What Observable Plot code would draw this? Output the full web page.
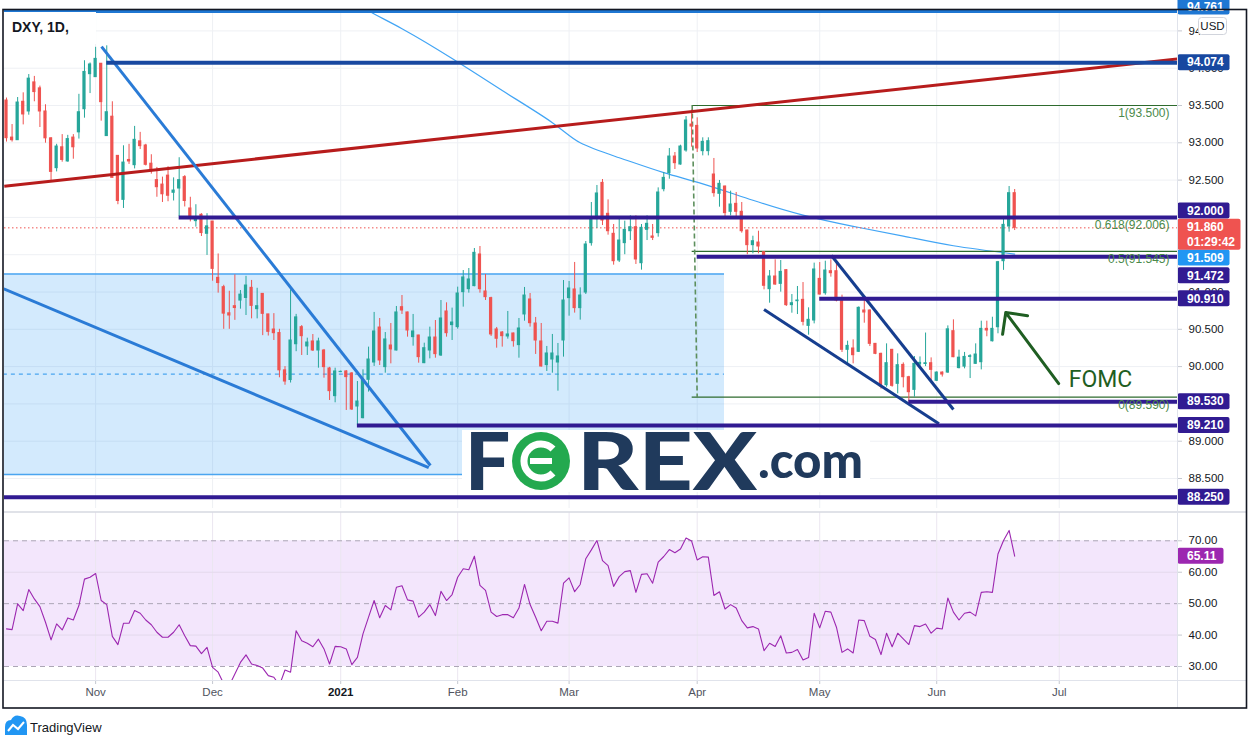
<!DOCTYPE html>
<html><head><meta charset="utf-8">
<script src="https://cdn.jsdelivr.net/npm/d3@7"></script>
<script src="https://cdn.jsdelivr.net/npm/@observablehq/plot@0.6"></script>
<style>
body{margin:0;background:#fff;font-family:"Liberation Sans",Arial,sans-serif;}
#wrap{position:relative;width:1253px;height:745px;overflow:hidden;background:#fff}
#wrap svg{position:absolute;left:0;max-width:none}
</style></head><body><div id="wrap"></div>
<script>
// ---------------- DATA (DXY daily) ----------------
const startDate = "2020-10-09"; // first bar; one bar per weekday
const open = [93.567,93.07,93.035,93.55,93.42,93.81,93.73,93.42,93.06,92.66,
92.94,92.75,93.07,93.14,93.45,93.92,93.88,94.06,93.09,93.35,
92.825,92.235,92.77,92.70,93.02,92.964,92.72,92.50,92.44,92.56,
92.33,92.387,92.54,92.12,91.95,92.035,91.78,91.945,91.19,91.065,
90.715,90.81,90.885,90.92,91.056,90.77,90.975,90.70,90.497,90.45,
89.95,89.82,90.30,90.529,90.270,90.337,90.216,90.216,89.975,89.604,
89.926,89.935,89.908,89.465,89.309,89.823,90.055,90.524,89.993,90.283,
90.216,90.797,90.726,90.395,90.417,90.046,90.216,90.39,90.149,90.739,
90.556,90.529,90.998,91.038,91.079,91.503,91.007,90.918,90.498,90.457,
90.404,90.444,90.288,90.699,90.9,90.578,90.337,90.02,90.095,90.055,
90.35,90.918,91.034,90.784,90.993,91.655,91.977,92.463,92.048,91.78,
91.422,91.655,91.815,91.869,91.386,91.833,91.744,91.789,92.378,92.593,
92.816,92.709,92.897,93.245,93.227,92.888,92.888,92.575,92.316,92.414,
92.075,92.182,92.075,91.824,91.628,91.663,91.534,91.038,91.208,91.109,
91.293,90.824,90.877,90.895,90.546,90.618,91.176,90.984,91.279,91.279,
90.877,90.225,90.243,90.198,90.752,90.752,90.305,90.171,89.751,90.225,
89.769,90.023,89.858,89.688,90.03,90.035,90.046,89.81,89.92,89.92,
90.475,89.98,90.0,90.13,90.037,90.059,90.506,90.34,90.528,91.413,
91.878,92.325];
const high = [93.60,93.245,93.607,93.67,93.915,93.89,93.76,93.51,93.07,92.98,
93.11,93.10,93.11,93.65,94.10,94.07,94.28,94.06,94.30,93.55,
92.825,92.96,92.98,93.22,93.14,92.98,92.84,92.67,92.54,92.68,
92.53,92.80,92.56,92.27,92.17,92.05,92.05,91.945,91.51,91.09,
91.01,91.23,91.02,91.21,91.155,91.05,90.975,90.70,90.71,90.50,
90.00,91.03,90.70,90.55,90.381,90.43,90.381,90.23,89.99,89.979,
89.94,89.948,89.92,89.8,89.957,90.261,90.726,90.645,90.457,90.578,
90.806,90.953,90.73,90.699,90.42,90.314,90.529,90.618,90.886,90.855,
90.784,91.065,91.288,91.315,91.583,91.61,91.235,90.93,90.525,90.47,
90.739,90.45,90.645,91.061,90.98,90.659,90.578,90.27,90.431,90.31,
91.154,91.141,91.396,91.056,91.677,92.2,92.428,92.508,92.235,91.905,
91.972,91.95,92.021,92.021,91.905,92.021,91.905,92.396,92.602,92.924,
92.87,92.968,93.352,93.44,93.335,93.067,93.067,92.79,92.495,92.42,
92.352,92.334,92.2,91.83,91.748,91.815,91.54,91.288,91.431,91.422,
91.30,90.966,91.074,91.127,90.788,91.387,91.395,91.413,91.431,91.395,
90.958,90.341,90.359,90.80,90.886,90.76,90.31,90.18,90.305,90.23,
90.171,90.05,89.87,90.135,90.13,90.45,90.117,89.93,89.93,90.546,
90.627,90.22,90.19,90.16,90.305,90.609,90.609,90.662,91.41,92.003,
92.414,92.374];
const low = [93.01,93.01,93.035,93.24,93.37,93.55,93.205,92.995,92.47,92.61,
92.74,92.74,92.78,93.05,93.33,93.66,93.88,93.29,93.09,92.53,
92.17,92.12,92.71,92.65,92.91,92.69,92.58,92.27,92.20,92.21,
92.22,92.01,92.14,91.94,91.87,91.744,91.49,91.145,90.985,90.50,
90.50,90.62,90.77,90.685,90.64,90.64,90.415,90.41,90.35,89.85,
89.75,89.78,90.20,90.149,90.149,90.203,89.979,89.845,89.546,89.515,
89.92,89.412,89.412,89.21,89.30,89.658,90.002,90.015,89.912,90.037,
90.21,90.699,90.395,90.274,90.046,90.04,90.104,90.113,90.136,90.395,
90.35,90.502,90.797,90.985,91.07,90.985,90.886,90.404,90.247,90.261,
90.368,90.261,90.113,90.609,90.529,90.163,89.993,89.935,89.912,89.671,
90.127,90.676,90.717,90.623,90.967,91.615,91.852,91.891,91.762,91.36,
91.395,91.50,91.69,91.369,91.293,91.69,91.69,91.735,92.343,92.512,
92.642,92.70,92.874,92.941,92.87,92.825,92.825,92.271,92.137,91.994,
92.021,92.003,91.789,91.5,91.512,91.512,91.029,90.85,91.09,90.998,
90.806,90.716,90.698,90.546,90.421,90.573,90.96,90.957,91.199,90.868,
90.189,90.037,90.037,90.189,90.582,90.269,90.16,89.698,89.724,89.724,
89.635,89.715,89.523,89.59,89.98,90.0,89.79,89.80,89.86,89.91,
90.12,89.97,89.97,89.84,90.03,89.956,90.40,90.33,90.44,91.29,
91.802,91.824];
const close = [93.062,93.035,93.54,93.38,93.86,93.68,93.42,93.06,92.61,92.95,
92.77,93.05,92.94,93.41,93.95,94.05,94.125,93.545,93.41,92.53,
92.22,92.735,92.75,93.04,92.955,92.705,92.63,92.405,92.31,92.29,
92.36,92.50,92.22,91.985,92.00,91.79,91.88,91.31,91.12,90.71,
90.685,90.785,90.965,91.087,90.814,90.81,90.707,90.466,90.448,89.95,
89.80,90.35,90.66,90.408,90.323,90.216,90.337,89.993,89.671,89.935,
89.93,89.859,89.425,89.532,89.823,90.095,90.471,90.082,90.364,90.23,
90.726,90.752,90.484,90.471,90.127,90.247,90.39,90.167,90.645,90.448,
90.591,90.98,91.195,91.168,91.525,91.038,90.931,90.431,90.373,90.408,
90.431,90.341,90.511,90.953,90.582,90.35,90.002,90.176,90.176,90.136,
90.886,91.047,90.784,90.953,91.637,91.981,92.321,91.958,91.815,91.413,
91.69,91.833,91.869,91.436,91.86,91.914,91.726,92.334,92.53,92.816,
92.727,92.95,93.299,93.218,92.924,93.013,93.022,92.325,92.45,92.057,
92.173,92.075,91.815,91.628,91.681,91.61,91.083,91.208,91.1,91.27,
90.824,90.85,90.886,90.6,90.627,91.302,90.966,91.288,91.252,90.886,
90.225,90.278,90.153,90.788,90.725,90.305,90.171,89.733,90.046,89.742,
90.019,89.858,89.657,90.037,90.05,90.045,89.956,89.92,89.894,90.5,
90.126,90.12,90.13,90.14,90.162,90.506,90.484,90.506,91.4,91.9,
92.325,91.86];
const rsi = [41.96,41.75,49.92,47.8,54.49,51.5,49.07,44.08,38.46,43.55,
41.64,45.46,44.8,49.4,57.8,58.4,59.6,51.0,49.7,39.6,
36.97,43.76,43.76,47.8,46.95,44.8,43.3,40.9,39.3,39.3,
40.9,43.3,39.8,36.65,36.5,34.1,36.1,29.75,28.2,24.5,
24.0,27.6,31.3,33.7,30.8,30.3,29.5,27.1,26.6,24.0,
28.9,28.2,41.4,38.2,37.4,36.3,38.7,35.6,30.8,36.4,
36.3,35.6,30.6,32.9,40.4,45.7,51.0,45.5,49.4,48.0,
55.2,55.7,51.2,50.8,45.7,47.3,49.7,46.2,53.9,51.0,
52.9,58.4,61.1,60.8,65.1,55.8,54.2,47.3,45.9,46.5,
46.5,45.5,48.6,56.1,49.7,45.7,41.4,44.4,44.4,43.8,
56.5,58.2,53.8,56.1,64.3,67.1,70.1,63.7,62.1,55.5,
58.6,60.2,60.5,53.6,59.3,59.5,56.5,63.2,65.0,67.2,
66.2,67.4,70.9,69.9,63.9,64.9,64.8,52.6,53.8,48.3,
49.7,48.6,44.6,42.3,42.7,41.96,35.06,37.4,36.4,39.8,
34.3,34.5,35.4,32.1,32.9,46.95,42.3,47.6,47.3,42.5,
34.5,35.6,34.3,44.8,44.6,39.6,38.6,33.8,40.6,36.3,
40.6,38.8,37.0,43.0,42.7,43.5,40.6,42.2,41.96,51.8,
47.3,44.8,46.95,47.3,46.1,53.6,53.8,53.6,65.8,70.1,
73.3,65.11];
// moving average (thin blue curve), sampled at these bars
const maBars   = [62,65,71,80,89,98,103,110,118,125,134,143,152,161,170,181];
const maValues = [94.95,94.77,94.53,94.13,93.70,93.27,93.00,92.80,92.60,92.45,92.23,92.03,91.88,91.75,91.62,91.509];
// time axis
const monthTickDates  = ["2020-11-02","2020-12-01","2021-01-01","2021-02-01","2021-03-01","2021-04-01","2021-05-03","2021-06-01","2021-07-01"];
const monthTickLabels = ["Nov","Dec","2021","Feb","Mar","Apr","May","Jun","Jul"];
const priceTicks = [88.5,89.0,89.5,90.0,90.5,91.0,91.5,92.0,92.5,93.0,93.5,94.0,94.5];
const rsiTicks = [30,40,50,60,70];
const rsiBands = [30,50,70];
// drawings: horizontal levels
const levelPrices   = [94.761, 94.074, 92.000, 91.472, 90.910, 89.530, 89.210, 88.250];
const levelStartBar = [-2, 18, 31, 124, 146, 162, 63, -2];
// trend lines (bar index, price)
const trendStartBar   = [-0.4, 17.06, -0.5, 148.1, 136.0];
const trendStartPrice = [92.418, 94.29, 91.043, 91.489, 90.765];
const trendEndBar     = [210.3, 76.1, 75.8, 170.0, 167.4];
const trendEndPrice   = [94.125, 88.674, 88.647, 89.425, 89.233];
// price range box
const rangeBoxBars   = [-2, 128.9];
const rangeBoxPrices = [88.554, 91.241];
const rangeBoxMid    = 89.90;
// fibonacci retracement
const fibLevels  = [1, 0.618, 0.5, 0];
const fibPrices  = [93.500, 92.006, 91.545, 89.590];
const fibStartBar = 123.1, fibEndBar = 124.0;
// FOMC annotation
const fomcArrowFrom = [188.9, 89.773], fomcArrowTo = [179.4, 90.725];
const fomcTextAt = [190.7, 89.83];
const lastPrice = 91.860, lastRsi = 65.11, maLast = 91.509;
const axisLabelValues = [94.761, 94.074, 92.000, 91.509, 91.472, 90.910, 89.530, 89.210, 88.250];

// ---------------- helpers ----------------
function barIndexOf(dateStr){
  const s=new Date(startDate+"T00:00:00Z"), d=new Date(dateStr+"T00:00:00Z");
  let n=0; for(const t=new Date(s); t<d; t.setUTCDate(t.getUTCDate()+1)){const w=t.getUTCDay(); if(w!==0&&w!==6) n++;}
  return n;
}
const wrap=document.getElementById("wrap");
const W=1253, X_DOMAIN=[-0.359,210.23];
const UP="#26a69a", DOWN="#ef5350";
const INDIGO="#311b92";
const bars=open.map((o,i)=>({i,o,h:high[i],l:low[i],c:close[i]}));
const col=d=>d.c>=d.o?UP:DOWN;
const monthIdx=monthTickDates.map(barIndexOf);
const monthLabelOf=new Map(monthIdx.map((m,k)=>[m,monthTickLabels[k]]));
const FONT="'Liberation Sans', Arial, sans-serif";
const baseStyle={fontFamily:FONT,fontSize:"11.5px",color:"#131722",background:"transparent",overflow:"visible"};
const levelColor=i=> i===0?"#1e77d3": i===1?"#1848a0": INDIGO;
const levelWidth=i=> i===0?3:4;
const trendColor=["#b71c1c","#2a7bd6","#2a7bd6","#163e8f","#163e8f"];
// axis tick labels that sit fully under a price tag are not drawn
const shownPriceTicks=priceTicks.filter(t=>!axisLabelValues.some(v=>Math.abs(v-t)<0.04));

// ---------------- price pane ----------------
const price=Plot.plot({
  width:W, height:512, marginLeft:4, marginRight:76, marginTop:10, marginBottom:4,
  style:baseStyle,
  x:{domain:X_DOMAIN, axis:null},
  y:{domain:[88.098,94.7735], axis:null},
  marks:[
    Plot.ruleY(priceTicks,{stroke:"#eef0f4"}),
    Plot.ruleX(monthIdx,{stroke:"#eef0f4"}),
    Plot.rect([0],{x1:rangeBoxBars[0],x2:rangeBoxBars[1],y1:rangeBoxPrices[0],y2:rangeBoxPrices[1],fill:"#2196f3",fillOpacity:0.2,clip:true}),
    Plot.ruleY(rangeBoxPrices,{x1:rangeBoxBars[0],x2:rangeBoxBars[1],stroke:"#4aa5f0",strokeWidth:1.5,clip:true}),
    Plot.ruleY([rangeBoxMid],{x1:rangeBoxBars[0],x2:rangeBoxBars[1],stroke:"#4aa5f0",strokeWidth:1.2,strokeDasharray:"4,4",clip:true}),
    Plot.line(maBars.map((b,k)=>({b,v:maValues[k]})),{x:"b",y:"v",curve:"natural",stroke:"#42a5f5",strokeWidth:1.2,clip:true}),
    Plot.ruleY(fibPrices,{x1:fibStartBar,x2:X_DOMAIN[1],stroke:"#2e6b2e",strokeWidth:1.2}),
    Plot.link([0],{x1:fibStartBar,y1:fibPrices[0],x2:fibEndBar,y2:fibPrices[3],stroke:"#5d8f5d",strokeWidth:1.6,strokeDasharray:"5,3"}),
    Plot.ruleY([lastPrice],{stroke:"#ef5350",strokeWidth:1,strokeDasharray:"1.5,2.5"}),
    Plot.ruleX(bars,{x:"i",y1:"l",y2:"h",stroke:col,strokeWidth:1}),
    Plot.rect(bars,{x1:d=>d.i-0.29,x2:d=>d.i+0.29,y1:d=>Math.min(d.o,d.c),y2:d=>Math.max(d.o,d.c),fill:col,insetTop:-0.5,insetBottom:-0.5}),
    Plot.link(d3.range(trendStartBar.length),{x1:i=>trendStartBar[i],y1:i=>trendStartPrice[i],x2:i=>trendEndBar[i],y2:i=>trendEndPrice[i],stroke:i=>trendColor[i],strokeWidth:3,clip:true}),
    Plot.ruleY(d3.range(levelPrices.length),{y:i=>levelPrices[i],x1:i=>levelStartBar[i],x2:X_DOMAIN[1],stroke:levelColor,strokeWidth:levelWidth,clip:true}),
    Plot.text(fibLevels.map((f,k)=>({f,p:fibPrices[k]})),{y:"p",frameAnchor:"right",textAnchor:"end",dx:-8,dy:8,text:d=>`${d.f}(${d.p.toFixed(3)})`,fill:"#4b8a4b",fontSize:12}),
    Plot.arrow([0],{x1:fomcArrowFrom[0],y1:fomcArrowFrom[1],x2:fomcArrowTo[0],y2:fomcArrowTo[1],stroke:"#1f5e22",strokeWidth:3,headLength:11,headAngle:90}),
    Plot.text([0],{x:fomcTextAt[0],y:fomcTextAt[1],text:["FOMC"],textAnchor:"start",fill:"#1f5e22",fontSize:23,fontFamily:"Roboto, sans-serif"}),
    Plot.axisY({anchor:"right",ticks:shownPriceTicks,tickFormat:d3.format(".3f"),tickSize:4,tickPadding:7,stroke:"#c5c8d0",fill:"#131722",label:null})
  ]
});
wrap.appendChild(price); price.style.top="0px";

// axis label boxes on top of the right scale
const yP=price.scale("y");
const sel=d3.select(price);
function box(svg,top,h,w,fill,lines){
  const g=d3.select(svg).append("g").attr("text-anchor","start");
  g.append("rect").attr("x",1177.5).attr("y",top).attr("width",w).attr("height",h).attr("rx",2).attr("fill",fill);
  lines.forEach((t,k)=>g.append("text").attr("x",1187).attr("y",top+12.3+k*14.5).attr("fill","#fff").attr("text-anchor","start")
    .attr("font-family",FONT).attr("font-size","12px").attr("font-weight","bold").text(t));
}
const boxShift=new Map([[94.761,-4.5],[92.000,-6.5],[91.509,4],[91.472,19]]);
const boxFill=v=> v===94.761?"#1e77d3": v===94.074?"#1848a0": v===91.509?"#2196f3": INDIGO;
axisLabelValues.forEach(v=>{
  const yc=yP.apply(v)+(boxShift.get(v)||0);
  box(price,yc-8,16,52,boxFill(v),[v.toFixed(3)]);
});
box(price,yP.apply(lastPrice)-8.5,31,63,"#ef5350",[lastPrice.toFixed(3),"01:29:42"]);
// USD tag
const usd=sel.append("g");
usd.append("rect").attr("x",1198.5).attr("y",17.5).attr("width",28).attr("height",17).attr("rx",3).attr("fill","#fff").attr("stroke","#d1d4dc");
usd.append("text").attr("x",1212.5).attr("y",30).attr("text-anchor","middle").attr("font-family",FONT).attr("font-size","11.5px").attr("fill","#131722").text("USD");

// ---------------- RSI pane + time axis ----------------
const rsiPlot=Plot.plot({
  width:W, height:196, marginLeft:4, marginRight:76, marginTop:0, marginBottom:28,
  style:baseStyle,
  x:{domain:X_DOMAIN, axis:null},
  y:{domain:[25.55,79.0], axis:null},
  marks:[
    Plot.rect([0],{x1:X_DOMAIN[0],x2:X_DOMAIN[1],y1:rsiBands[0],y2:rsiBands[2],fill:"#f3e6fc"}),
    Plot.ruleX(monthIdx,{stroke:"#ebe6f0"}),
    Plot.ruleY([40,60],{stroke:"#e3d9ec"}),
    Plot.ruleY(rsiBands,{stroke:"#aca6b6",strokeDasharray:"5,4"}),
    Plot.line(rsi.map((v,i)=>({i,v})),{x:"i",y:"v",stroke:"#9c27b0",strokeWidth:1.1,clip:true}),
    Plot.axisY({anchor:"right",ticks:rsiTicks,tickFormat:d3.format(".2f"),tickSize:4,tickPadding:7,stroke:"#c5c8d0",fill:"#131722",label:null}),
    Plot.axisX({anchor:"bottom",ticks:monthIdx,tickFormat:d=>monthLabelOf.get(d),tickSize:4,tickPadding:3,stroke:"#c5c8d0",fill:"#50535e",label:null})
  ]
});
wrap.appendChild(rsiPlot); rsiPlot.style.top="512px";
d3.select(rsiPlot).selectAll("text").filter(function(){return this.textContent==="2021";}).attr("font-weight","bold").attr("fill","#131722");
const yR=rsiPlot.scale("y");
box(rsiPlot,yR.apply(lastRsi)-8,16,46,"#9c27b0",[lastRsi.toFixed(2)]);

// ---------------- overlays: separators, frame, legend, watermark, footer ----------------
const ov=d3.select(wrap).append("svg").attr("width",W).attr("height",745).style("top","0px").style("pointer-events","none");
ov.append("line").attr("x1",4).attr("x2",1246).attr("y1",512).attr("y2",512).attr("stroke","#d6d9e0").attr("stroke-width",1.5);
ov.append("line").attr("x1",4).attr("x2",1246).attr("y1",680.5).attr("y2",680.5).attr("stroke","#e0e3eb");
ov.append("line").attr("x1",1177.5).attr("x2",1177.5).attr("y1",10).attr("y2",708).attr("stroke","#e0e3eb");
// legend
ov.append("rect").attr("x",4).attr("y",12).attr("width",92).attr("height",32).attr("fill","#fff");
ov.append("text").attr("x",12).attr("y",32).attr("font-family",FONT).attr("font-size","14px").attr("font-weight","bold").attr("fill","#131722").text("DXY, 1D,");
// watermark logo
const lg=ov.append("g");
lg.append("rect").attr("x",462).attr("y",430).attr("width",408).attr("height",62).attr("fill","#fff");
const NAVY="#203a5c";
lg.append("text").attr("x",465).attr("y",490).attr("font-family","Lato, 'Open Sans', sans-serif").attr("font-weight","900").attr("font-size","80px").attr("fill",NAVY).text("F");
lg.append("circle").attr("cx",541).attr("cy",461).attr("r",29).attr("fill","#23a94f");
lg.append("path").attr("d","M553,449 A17,17 0 1 0 553,473").attr("fill","none").attr("stroke","#fff").attr("stroke-width",7);
lg.append("rect").attr("x",530).attr("y",458).attr("width",22).attr("height",6).attr("fill","#fff");
lg.append("text").attr("x",577).attr("y",490).attr("font-family","Lato, 'Open Sans', sans-serif").attr("font-weight","900").attr("font-size","80px").attr("fill",NAVY).attr("textLength",180).attr("lengthAdjust","spacingAndGlyphs").text("REX");
lg.append("text").attr("x",758).attr("y",478).attr("font-family","Lato, 'Open Sans', sans-serif").attr("font-weight","900").attr("font-size","50px").attr("fill",NAVY).attr("textLength",105).attr("lengthAdjust","spacingAndGlyphs").text(".com");
// frame
ov.append("rect").attr("x",3).attr("y",9.5).attr("width",1243.5).attr("height",698.5).attr("fill","none").attr("stroke","#131722").attr("stroke-width",1.6);
// footer
const ft=ov.append("g");
ft.append("path").attr("d","M5,735 L5,727 Q5,720 11,720 Q14,714 20,716 Q27,717 27,725 L27,735 Z").attr("fill","#2196f3");
ft.append("polyline").attr("points","8,731 13,725 18,729 24,722").attr("fill","none").attr("stroke","#fff").attr("stroke-width",2);
ft.append("text").attr("x",30).attr("y",732).attr("font-family",FONT).attr("font-size","13px").attr("fill","#131722").text("TradingView");
</script></body></html>
